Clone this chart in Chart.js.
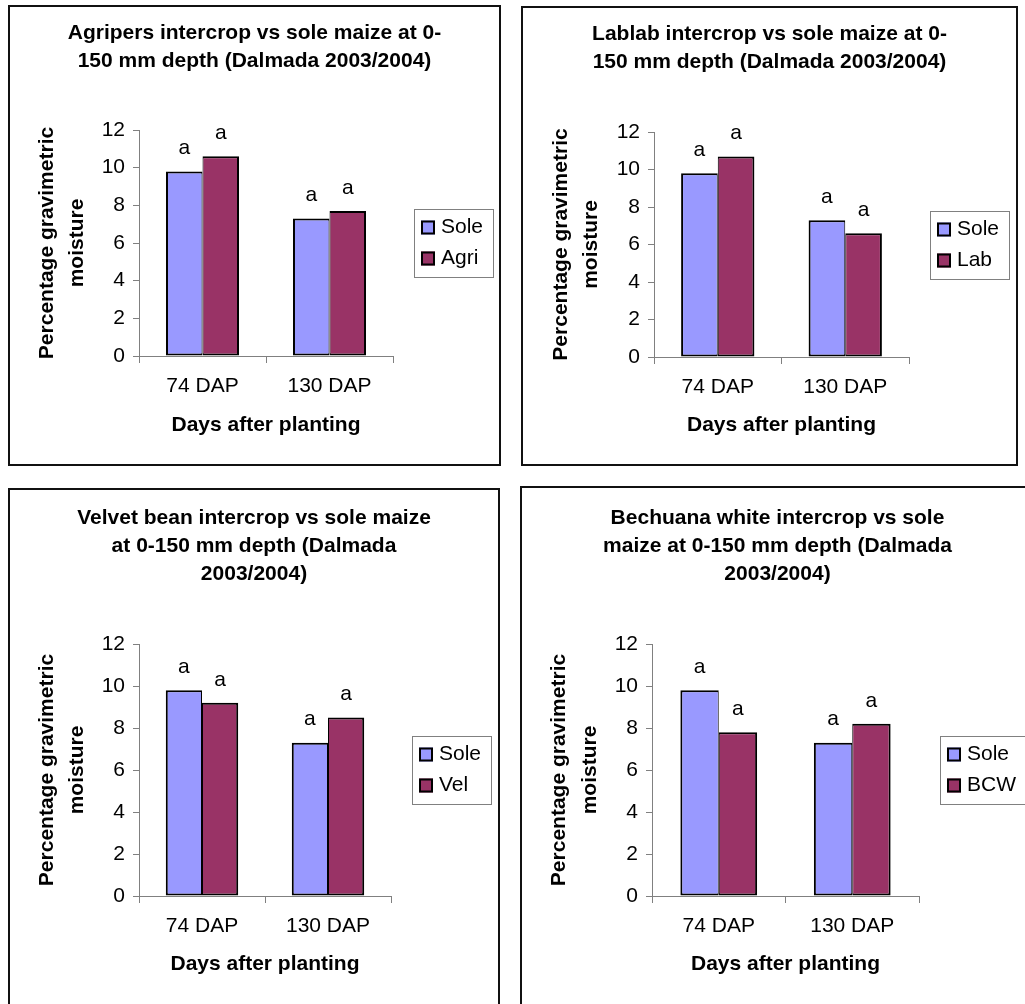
<!DOCTYPE html>
<html>
<head>
<meta charset="utf-8">
<script src="https://cdn.jsdelivr.net/npm/chart.js@4.4.1/dist/chart.umd.min.js"></script>
<style>
  html, body { margin: 0; padding: 0; background: #fff; overflow: hidden; }
  body { width: 1025px; height: 1004px; position: relative; }
  .panel { position: absolute; box-sizing: border-box; border: 2px solid #111; background: #fff; }
  .panel canvas { display: block; }
</style>
</head>
<body>
<div class="panel" id="p1"><canvas id="c1"></canvas></div>
<div class="panel" id="p2"><canvas id="c2"></canvas></div>
<div class="panel" id="p3"><canvas id="c3"></canvas></div>
<div class="panel" id="p4"><canvas id="c4"></canvas></div>
<script>
// data
const categories = ["74 DAP", "130 DAP"];
const yTickValues = [0, 2, 4, 6, 8, 10, 12];
const soleValues = [9.8, 7.3];
const agriValues = [10.6, 7.7];
const labValues = [10.7, 6.6];
const velValues = [9.2, 8.5];
const bcwValues = [7.8, 8.2];
const soleLetters = ["a", "a"];
const agriLetters = ["a", "a"];
const labLetters = ["a", "a"];
const velLetters = ["a", "a"];
const bcwLetters = ["a", "a"];

const agriTitle = ["Agripers intercrop vs sole maize at 0-", "150 mm depth (Dalmada 2003/2004)"];
const labTitle = ["Lablab intercrop vs sole maize at 0-", "150 mm depth (Dalmada 2003/2004)"];
const velTitle = ["Velvet bean intercrop vs sole maize", "at 0-150 mm depth (Dalmada", "2003/2004)"];
const bcwTitle = ["Bechuana white intercrop vs sole", "maize at 0-150 mm depth (Dalmada", "2003/2004)"];
const yTitle = ["Percentage gravimetric", "moisture"];
const xTitle = "Days after planting";

const SOLE_COLOR = "#9999FF";
const INTER_COLOR = "#993366";
const FONT_FAMILY = "Arial, 'Liberation Sans', sans-serif";

Chart.defaults.font.family = FONT_FAMILY;
Chart.defaults.color = "#000";

// panel boxes and target plot areas (page pixels)
const panels = [
  { id: 1, box: [8, 5, 493, 461], area: [139, 130, 393, 356], titleY: 33, yTitleX: 46.8, xTitleY: 425,
    title: agriTitle, inter: { label: "Agri", data: agriValues, letters: agriLetters } },
  { id: 2, box: [521, 6, 497, 460], area: [654, 132, 909, 357], titleY: 34.3, yTitleX: 561.2, xTitleY: 425.5,
    title: labTitle, inter: { label: "Lab", data: labValues, letters: labLetters } },
  { id: 3, box: [8, 488, 492, 530], area: [139, 644, 391, 896], titleY: 518.3, yTitleX: 46.8, xTitleY: 964.5,
    title: velTitle, inter: { label: "Vel", data: velValues, letters: velLetters } },
  { id: 4, box: [520, 486, 515, 530], area: [652, 644, 919, 896], titleY: 518.3, yTitleX: 559.5, xTitleY: 964.5,
    title: bcwTitle, inter: { label: "BCW", data: bcwValues, letters: bcwLetters } }
];

// "a" letters above each bar
const letterPlugin = {
  id: "letters",
  afterDatasetsDraw(chart) {
    const ctx = chart.ctx;
    ctx.save();
    ctx.font = "21px " + FONT_FAMILY;
    ctx.fillStyle = "#000";
    ctx.textAlign = "center";
    ctx.textBaseline = "middle";
    chart.data.datasets.forEach((ds, i) => {
      chart.getDatasetMeta(i).data.forEach((bar, j) => {
        ctx.fillText(ds.letters[j], bar.x, bar.y - 23);
      });
    });
    ctx.restore();
  }
};

// framed legend to the right of the plot
const boxLegend = {
  id: "boxLegend",
  afterDraw(chart) {
    const ctx = chart.ctx;
    const area = chart.chartArea;
    ctx.save();
    ctx.font = "21px " + FONT_FAMILY;
    const textW = Math.max(...chart.data.datasets.map(ds => ctx.measureText(ds.label).width));
    const w = Math.round(7 + 14 + 6 + textW + 10);
    const h = 68;
    const x = Math.round(area.right + 21);
    const y = Math.round((area.top + area.bottom) / 2 - h / 2);
    ctx.strokeStyle = "#808080";
    ctx.lineWidth = 1;
    ctx.strokeRect(x + 0.5, y + 0.5, w, h);
    chart.data.datasets.forEach((ds, i) => {
      const cy = y + 18.5 + i * 31;
      ctx.fillStyle = ds.backgroundColor;
      ctx.fillRect(x + 7, cy - 7, 14, 14);
      ctx.strokeStyle = "#000";
      ctx.lineWidth = 2;
      ctx.strokeRect(x + 8, cy - 6, 12, 12);
      ctx.fillStyle = "#000";
      ctx.textAlign = "left";
      ctx.textBaseline = "middle";
      ctx.fillText(ds.label, x + 27, cy);
    });
    ctx.restore();
  }
};

panels.forEach(p => {
  const [bx, by, bw, bh] = p.box;
  const div = document.getElementById("p" + p.id);
  div.style.left = bx + "px";
  div.style.top = by + "px";
  div.style.width = bw + "px";
  div.style.height = bh + "px";

  const ox = bx + 2, oy = by + 2, W = bw - 4, H = bh - 4;
  const [L, T, R, B] = p.area;
  const yWidth = L - ox;
  const rightGap = ox + W - R;
  const xHeight = oy + H - B;
  const tLine = 28;
  const tPadTop = p.titleY - oy - tLine / 2;
  const tPadBottom = (T - oy) - tPadTop - p.title.length * tLine;
  const yTitleLine = 30.5;
  const yTitlePad = p.yTitleX - ox - yTitleLine / 2;
  const xTitlePad = (oy + H) - p.xTitleY - 12.5;

  const canvas = document.getElementById("c" + p.id);
  canvas.width = W;
  canvas.height = H;

  new Chart(canvas, {
    type: "bar",
    data: {
      labels: categories,
      datasets: [
        { label: "Sole", data: soleValues, letters: soleLetters, backgroundColor: SOLE_COLOR,
          borderColor: "#000", borderWidth: { top: 2, left: 2, right: 1, bottom: 2 }, borderSkipped: false,
          categoryPercentage: 0.575, barPercentage: 1 },
        { label: p.inter.label, data: p.inter.data, letters: p.inter.letters, backgroundColor: INTER_COLOR,
          borderColor: "#000", borderWidth: { top: 2, left: 1, right: 2, bottom: 2 }, borderSkipped: false,
          categoryPercentage: 0.575, barPercentage: 1 }
      ]
    },
    options: {
      responsive: false,
      animation: false,
      layout: { padding: 0 },
      plugins: {
        legend: { display: false },
        tooltip: { enabled: false },
        title: {
          display: true,
          text: p.title,
          color: "#000",
          font: { size: 21, weight: "bold", lineHeight: tLine + "px" },
          padding: { top: tPadTop, bottom: tPadBottom }
        }
      },
      scales: {
        x: {
          grid: { display: true, drawOnChartArea: false, drawTicks: true, tickLength: 7, color: "#808080", offset: true },
          border: { display: true, color: "#808080", width: 1 },
          ticks: { color: "#000", font: { size: 21 }, padding: 11, maxRotation: 0 },
          title: { display: true, text: xTitle, color: "#000",
            font: { size: 21, weight: "bold", lineHeight: "25px" }, padding: { top: 0, bottom: xTitlePad } },
          afterFit(s) { s.height = xHeight; }
        },
        y: {
          min: 0,
          max: 12,
          afterBuildTicks(s) { s.ticks = yTickValues.map(v => ({ value: v })); },
          grid: { display: true, drawOnChartArea: false, drawTicks: true, tickLength: 6, color: "#808080" },
          border: { display: true, color: "#808080", width: 1 },
          ticks: { color: "#000", font: { size: 21 }, padding: 8 },
          title: { display: true, text: yTitle, color: "#000",
            font: { size: 21, weight: "bold", lineHeight: yTitleLine + "px" }, padding: { top: yTitlePad, bottom: 0 } },
          afterFit(s) { s.width = yWidth; }
        },
        gap: {
          type: "linear",
          position: "right",
          display: true,
          grid: { display: false },
          border: { display: false },
          ticks: { display: false },
          afterFit(s) { s.width = rightGap; }
        }
      }
    },
    plugins: [letterPlugin, boxLegend]
  });
});
</script>
</body>
</html>
